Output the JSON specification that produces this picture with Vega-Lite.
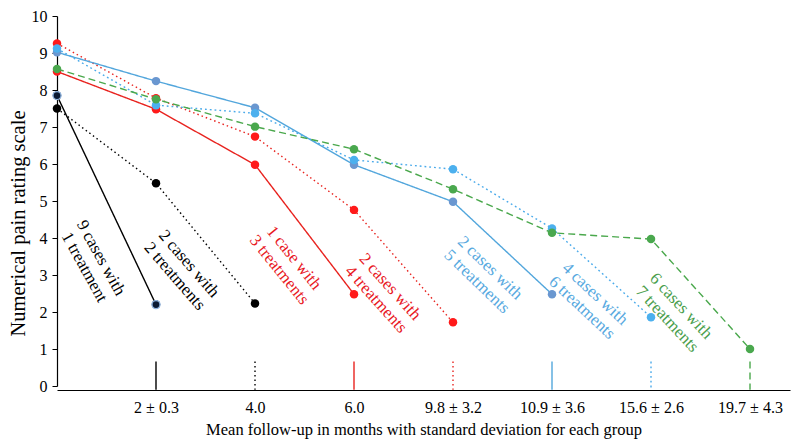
{
  "$schema": "https://vega.github.io/schema/vega-lite/v6.json",
  "width": 733,
  "height": 370,
  "autosize": {"type": "none"},
  "padding": {"left": 57, "top": 16, "right": 2, "bottom": 62},
  "background": "white",
  "config": {
    "view": {"stroke": null},
    "font": "Liberation Serif",
    "text": {"font": "Liberation Serif"},
    "style": {
      "guide-label": {"font": "Liberation Serif", "fontSize": 16, "fill": "#000"},
      "guide-title": {"font": "Liberation Serif", "fill": "#000", "fontWeight": "normal"}
    },
    "axis": {"labelFont": "Liberation Serif", "titleFont": "Liberation Serif", "labelFontSize": 16, "labelColor": "#000", "titleColor": "#000", "titleFontWeight": "normal", "grid": false, "domainColor": "#000", "tickColor": "#000", "domainWidth": 1.2, "labelOverlap": false},
    "axisX": {"offset": 4, "ticks": false, "tickSize": 0, "labelPadding": 9, "labelFont": "Liberation Serif", "labelFontSize": 16, "titleFontSize": 16.5, "titlePadding": 6, "values": [1, 2, 3, 4, 5, 6, 7], "labelExpr": "['', '2 ± 0.3', '4.0', '6.0', '9.8 ± 3.2', '10.9 ± 3.6', '15.6 ± 2.6', '19.7 ± 4.3'][datum.value]"},
    "axisY": {"tickSize": 5, "labelPadding": 5, "labelFont": "Liberation Serif", "labelFontSize": 16, "titleFontSize": 20.5, "titleAngle": -90, "titleAlign": "center", "titleBaseline": "middle", "titleX": -39, "titleY": 207, "values": [0, 1, 2, 3, 4, 5, 6, 7, 8, 9, 10]}
  },
  "datasets": {
    "pts": [
      {"series": "1 treatment", "x": 0, "y": 7.85},
      {"series": "1 treatment", "x": 1, "y": 2.2},
      {"series": "2 treatments", "x": 0, "y": 7.5},
      {"series": "2 treatments", "x": 1, "y": 5.48},
      {"series": "2 treatments", "x": 2, "y": 2.23},
      {"series": "3 treatments", "x": 0, "y": 8.5},
      {"series": "3 treatments", "x": 1, "y": 7.48},
      {"series": "3 treatments", "x": 2, "y": 5.98},
      {"series": "3 treatments", "x": 3, "y": 2.48},
      {"series": "4 treatments", "x": 0, "y": 9.26},
      {"series": "4 treatments", "x": 1, "y": 7.78},
      {"series": "4 treatments", "x": 2, "y": 6.74},
      {"series": "4 treatments", "x": 3, "y": 4.76},
      {"series": "4 treatments", "x": 4, "y": 1.72},
      {"series": "5 treatments", "x": 0, "y": 9.02},
      {"series": "5 treatments", "x": 1, "y": 8.24},
      {"series": "5 treatments", "x": 2, "y": 7.52},
      {"series": "5 treatments", "x": 3, "y": 5.98},
      {"series": "5 treatments", "x": 4, "y": 4.98},
      {"series": "5 treatments", "x": 5, "y": 2.48},
      {"series": "6 treatments", "x": 0, "y": 9.12},
      {"series": "6 treatments", "x": 1, "y": 7.59},
      {"series": "6 treatments", "x": 2, "y": 7.37},
      {"series": "6 treatments", "x": 3, "y": 6.11},
      {"series": "6 treatments", "x": 4, "y": 5.86},
      {"series": "6 treatments", "x": 5, "y": 4.26},
      {"series": "6 treatments", "x": 6, "y": 1.86},
      {"series": "7 treatments", "x": 0, "y": 8.57},
      {"series": "7 treatments", "x": 1, "y": 7.75},
      {"series": "7 treatments", "x": 2, "y": 7.01},
      {"series": "7 treatments", "x": 3, "y": 6.4},
      {"series": "7 treatments", "x": 4, "y": 5.32},
      {"series": "7 treatments", "x": 5, "y": 4.14},
      {"series": "7 treatments", "x": 6, "y": 3.97},
      {"series": "7 treatments", "x": 7, "y": 1.0}
    ],
    "ends": [
      {"series": "1 treatment", "x": 1},
      {"series": "2 treatments", "x": 2},
      {"series": "3 treatments", "x": 3},
      {"series": "4 treatments", "x": 4},
      {"series": "5 treatments", "x": 5},
      {"series": "6 treatments", "x": 6},
      {"series": "7 treatments", "x": 7}
    ]
  },
  "layer": [
    {
      "data": {"name": "pts"},
      "mark": {"type": "line", "strokeWidth": 1.4},
      "encoding": {
        "x": {"field": "x", "type": "quantitative", "scale": {"domain": [0, 7.404], "nice": false, "zero": false},
          "title": "Mean follow-up in months with standard deviation for each group"},
        "y": {"field": "y", "type": "quantitative", "scale": {"domain": [0, 10], "nice": false},
          "title": "Numerical pain rating scale"},
        "stroke": {"field": "series", "type": "nominal", "legend": null,
          "scale": {"domain": ["1 treatment", "2 treatments", "3 treatments", "4 treatments", "5 treatments", "6 treatments", "7 treatments"],
                    "range": ["#000000", "#000000", "#e8231f", "#e8231f", "#52a6dc", "#4aaaea", "#4aa84c"]}},
        "strokeDash": {"field": "series", "type": "nominal", "legend": null,
          "scale": {"domain": ["1 treatment", "2 treatments", "3 treatments", "4 treatments", "5 treatments", "6 treatments", "7 treatments"],
                    "range": [[1, 0], [1.5, 3], [1, 0], [1.5, 3], [1, 0], [1.8, 3], [7, 4]]}}
      }
    },
    {
      "data": {"name": "ends"},
      "mark": {"type": "rule", "strokeWidth": 1.4},
      "encoding": {
        "x": {"field": "x", "type": "quantitative", "title": "Mean follow-up in months with standard deviation for each group"},
        "y": {"datum": 0.66, "type": "quantitative", "title": "Numerical pain rating scale"},
        "y2": {"datum": -0.1},
        "stroke": {"field": "series", "type": "nominal", "legend": null},
        "strokeDash": {"field": "series", "type": "nominal", "legend": null}
      }
    },
    {
      "data": {"name": "pts"},
      "mark": {"type": "circle", "size": 72, "opacity": 1},
      "encoding": {
        "x": {"field": "x", "type": "quantitative", "title": "Mean follow-up in months with standard deviation for each group"},
        "y": {"field": "y", "type": "quantitative", "title": "Numerical pain rating scale"},
        "fill": {"field": "series", "type": "nominal", "legend": null,
          "scale": {"domain": ["1 treatment", "2 treatments", "3 treatments", "4 treatments", "5 treatments", "6 treatments", "7 treatments"],
                    "range": ["#0b1a33", "#000000", "#ff1a1a", "#ff1a1a", "#6a97d0", "#4cb0ee", "#4aa84e"]}}
      }
    },
    {
      "data": {"name": "pts"},
      "transform": [{"filter": "datum.series == '1 treatment'"}],
      "mark": {"type": "circle", "size": 64, "opacity": 1, "fill": "#0b1a33", "stroke": "#8fb4e0", "strokeWidth": 1.3},
      "encoding": {
        "x": {"field": "x", "type": "quantitative", "title": "Mean follow-up in months with standard deviation for each group"},
        "y": {"field": "y", "type": "quantitative", "title": "Numerical pain rating scale"}
      }
    },
    {
      "data": {"values": [{"x": 0.444, "y": 3.46, "label": "9 cases with\n1 treatment"}]},
      "mark": {"type": "text", "angle": 61, "color": "#000000", "fontSize": 17, "lineHeight": 19, "align": "center", "baseline": "middle", "lineBreak": "\n", "font": "Liberation Serif"},
      "encoding": {"x": {"field": "x", "type": "quantitative", "title": "Mean follow-up in months with standard deviation for each group"}, "y": {"field": "y", "type": "quantitative", "title": "Numerical pain rating scale"}, "text": {"field": "label"}}
    },
    {
      "data": {"values": [{"x": 1.333, "y": 3.30, "label": "2 cases with\n2 treatments"}]},
      "mark": {"type": "text", "angle": 49, "color": "#000000", "fontSize": 17, "lineHeight": 19, "align": "center", "baseline": "middle", "lineBreak": "\n", "font": "Liberation Serif"},
      "encoding": {"x": {"field": "x", "type": "quantitative", "title": "Mean follow-up in months with standard deviation for each group"}, "y": {"field": "y", "type": "quantitative", "title": "Numerical pain rating scale"}, "text": {"field": "label"}}
    },
    {
      "data": {"values": [{"x": 2.394, "y": 3.46, "label": "1 case with\n3 treatments"}]},
      "mark": {"type": "text", "angle": 51, "color": "#e8191f", "fontSize": 17, "lineHeight": 19, "align": "center", "baseline": "middle", "lineBreak": "\n", "font": "Liberation Serif"},
      "encoding": {"x": {"field": "x", "type": "quantitative", "title": "Mean follow-up in months with standard deviation for each group"}, "y": {"field": "y", "type": "quantitative", "title": "Numerical pain rating scale"}, "text": {"field": "label"}}
    },
    {
      "data": {"values": [{"x": 3.364, "y": 2.68, "label": "2 cases with\n4 treatments"}]},
      "mark": {"type": "text", "angle": 48, "color": "#e8191f", "fontSize": 17, "lineHeight": 19, "align": "center", "baseline": "middle", "lineBreak": "\n", "font": "Liberation Serif"},
      "encoding": {"x": {"field": "x", "type": "quantitative", "title": "Mean follow-up in months with standard deviation for each group"}, "y": {"field": "y", "type": "quantitative", "title": "Numerical pain rating scale"}, "text": {"field": "label"}}
    },
    {
      "data": {"values": [{"x": 4.374, "y": 3.19, "label": "2 cases with\n5 treatments"}]},
      "mark": {"type": "text", "angle": 44, "color": "#58a9e0", "fontSize": 17, "lineHeight": 19, "align": "center", "baseline": "middle", "lineBreak": "\n", "font": "Liberation Serif"},
      "encoding": {"x": {"field": "x", "type": "quantitative", "title": "Mean follow-up in months with standard deviation for each group"}, "y": {"field": "y", "type": "quantitative", "title": "Numerical pain rating scale"}, "text": {"field": "label"}}
    },
    {
      "data": {"values": [{"x": 5.434, "y": 2.49, "label": "4 cases with\n6 treatments"}]},
      "mark": {"type": "text", "angle": 43, "color": "#58a9e0", "fontSize": 17, "lineHeight": 19, "align": "center", "baseline": "middle", "lineBreak": "\n", "font": "Liberation Serif"},
      "encoding": {"x": {"field": "x", "type": "quantitative", "title": "Mean follow-up in months with standard deviation for each group"}, "y": {"field": "y", "type": "quantitative", "title": "Numerical pain rating scale"}, "text": {"field": "label"}}
    },
    {
      "data": {"values": [{"x": 6.303, "y": 2.16, "label": "6 cases with\n7 treatments"}]},
      "mark": {"type": "text", "angle": 47, "color": "#4a9e4c", "fontSize": 17, "lineHeight": 19, "align": "center", "baseline": "middle", "lineBreak": "\n", "font": "Liberation Serif"},
      "encoding": {"x": {"field": "x", "type": "quantitative", "title": "Mean follow-up in months with standard deviation for each group"}, "y": {"field": "y", "type": "quantitative", "title": "Numerical pain rating scale"}, "text": {"field": "label"}}
    }
  ]
}
